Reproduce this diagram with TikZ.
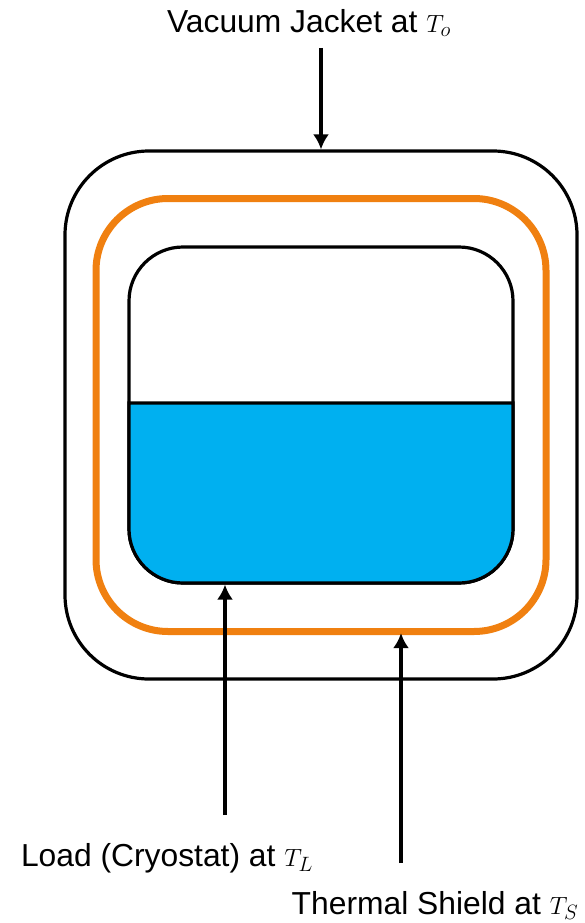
\documentclass[tikz,border=0pt]{standalone}
\usepackage{fontspec}
\setmainfont{Liberation Sans}
\usetikzlibrary{arrows.meta, positioning, calc}
\definecolor{jkorange}{HTML}{F08010}
\definecolor{jkblue}{HTML}{00B0F0}
\tikzset{
  vessel/.style={rectangle, draw=black, line width=3.2pt, outer sep=0pt},
  lbl/.style={font=\fontsize{31.8pt}{38pt}\selectfont, inner sep=0pt, anchor=base},
  arr/.style={-{Latex[length=15pt,width=16pt]}, line width=4pt, black, shorten >=1.6pt},
}
\begin{document}
\begin{tikzpicture}[x=1pt, y=-1pt]
  \useasboundingbox (0,0) rectangle (584,923);
  % vessels
  \node[vessel, minimum width=512pt, minimum height=528pt, rounded corners=84pt] (jacket) at (321,415) {};
  \node[vessel, draw=jkorange, minimum width=450pt, minimum height=433pt, rounded corners=72pt, line width=7pt] (shield) at (321,415) {};
  \node[vessel, minimum width=384pt, minimum height=336pt, rounded corners=54pt] (load) at (321,415) {};
  \coordinate (lvlL) at (load.west |- 0,403);
  \coordinate (lvlR) at (load.east |- 0,403);
  \draw[line width=3.2pt, fill=jkblue] (lvlL) [rounded corners=54pt] -- (load.south west) -- (load.south east) [sharp corners] -- (lvlR) -- cycle;
  % labels
  \node[lbl] (jackettxt) at (309,33) {Vacuum Jacket at $T_o$};
  \node[lbl] (loadtxt) at (167,866) {Load (Cryostat) at $T_L$};
  \node[lbl] (shieldtxt) at (435,914) {Thermal Shield at $T_S$};
  % arrows
  \coordinate (jacketin) at (321,48);
  \coordinate (loadin) at (225,815);
  \coordinate (shieldin) at (401,863);
  \draw[arr] (jacketin) -- (jacketin |- jacket.north);
  \draw[arr] (loadin) -- (loadin |- load.south);
  \draw[arr] (shieldin) -- (shieldin |- shield.south);
\end{tikzpicture}
\end{document}
